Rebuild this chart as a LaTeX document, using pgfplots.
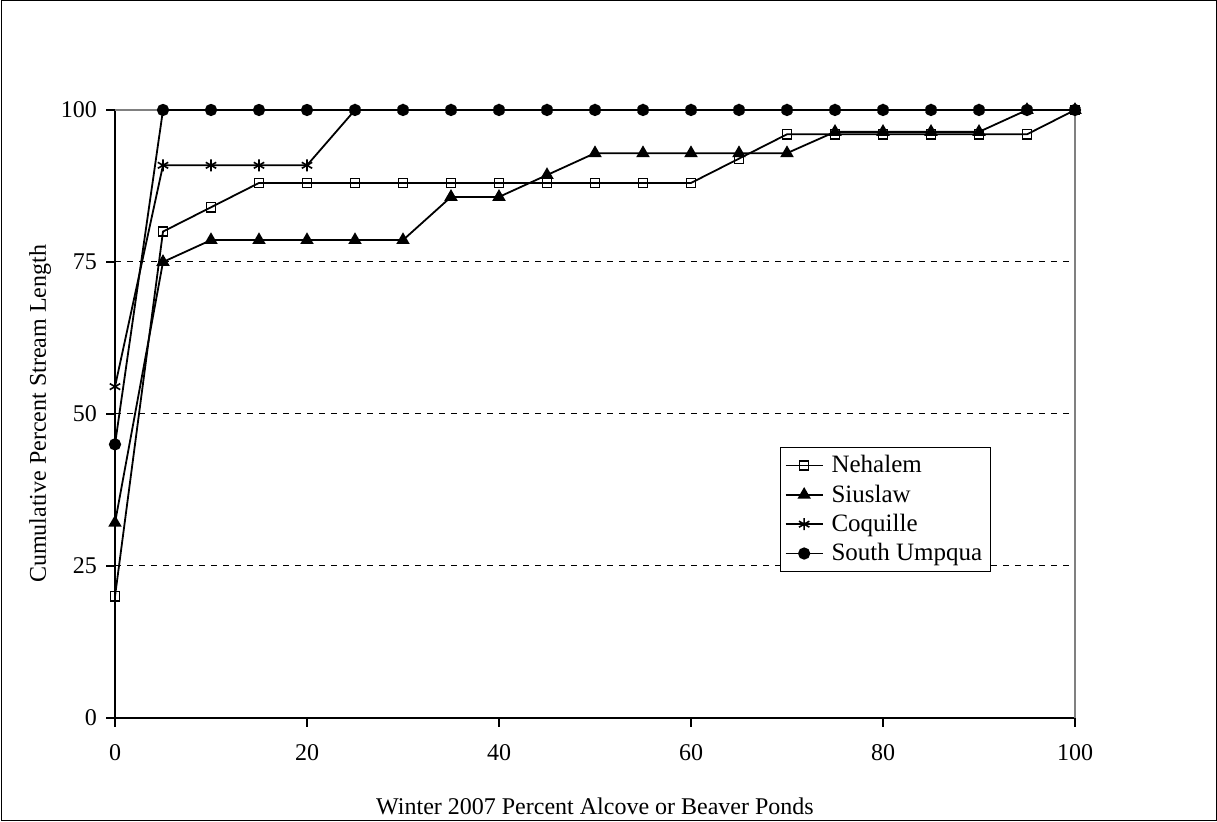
\documentclass[border=0pt]{standalone}
\usepackage{pgfplots}
\pgfplotsset{compat=1.18}
\usepackage{fontspec}
\setmainfont{Liberation Serif}
\begin{document}
\begin{tikzpicture}[font=\fontsize{12}{14.4}\selectfont]
\useasboundingbox (0,0) rectangle (608.5pt,411pt);
\draw[black, line width=0.5pt] (0.5pt,0.5pt) rectangle (608pt,410.5pt);
\begin{axis}[
  at={(57.5pt,52pt)}, anchor=south west,
  scale only axis, width=480pt, height=304pt,
  xmin=0, xmax=100, ymin=0, ymax=100,
  axis x line*=bottom, axis y line*=left,
  axis line style={black, line width=0.6pt, -},
  xtick={0,20,40,60,80,100}, ytick={0,25,50,75,100},
  tick align=outside, major tick length=4.5pt,
  tick style={black, line width=0.6pt},
  minor tick num=0,
  /pgf/number format/assume math mode=true,
  xticklabel style={yshift=-5pt},
  yticklabel style={xshift=-1pt},
  ymajorgrids, grid style={black, dash pattern=on 3pt off 3pt, line width=0.5pt},
  xlabel={Winter 2007 Percent Alcove or Beaver Ponds},
  ylabel={Cumulative Percent Stream Length},
  xlabel style={at={(axis description cs:0.5,-0.146)}, anchor=center},
  ylabel style={at={(axis description cs:-0.078,0.5)}, anchor=center},
  clip=false,
  legend style={at={(axis cs:69.3,44.6)}, anchor=north west, draw=black, line width=0.5pt,
    row sep=0.5pt, inner sep=2pt, font=\fontsize{12.5}{15}\selectfont,
    /tikz/every odd column/.append style={column sep=2pt}},
  legend cell align=left,
  legend image code/.code={\draw[mark repeat=2,mark phase=2] plot coordinates {(0cm,0cm)(0.325cm,0cm)(0.65cm,0cm)};},
  every axis plot/.append style={black, line width=0.9pt},
]
\draw[gray, line width=0.6pt] (rel axis cs:0,1) -- (rel axis cs:1,1) -- (rel axis cs:1,0);
\addplot[mark=square, mark size=2.3pt, mark options={fill=white, line width=0.7pt}] coordinates {
(0,20)(5,80)(10,84)(15,88)(20,88)(25,88)(30,88)(35,88)(40,88)(45,88)(50,88)(55,88)(60,88)(65,92)(70,96)(75,96)(80,96)(85,96)(90,96)(95,96)(100,100)};
\addlegendentry{Nehalem}
\addplot[mark=triangle*, mark size=3pt, mark options={solid}] coordinates {
(0,32.1)(5,75)(10,78.6)(15,78.6)(20,78.6)(25,78.6)(30,78.6)(35,85.7)(40,85.7)(45,89.3)(50,92.9)(55,92.9)(60,92.9)(65,92.9)(70,92.9)(75,96.4)(80,96.4)(85,96.4)(90,96.4)(95,100)(100,100)};
\addlegendentry{Siuslaw}
\addplot[mark=asterisk, mark size=3pt, mark options={line width=0.8pt}] coordinates {
(0,54.5)(5,90.9)(10,90.9)(15,90.9)(20,90.9)(25,100)(30,100)(35,100)(40,100)(45,100)(50,100)(55,100)(60,100)(65,100)(70,100)(75,100)(80,100)(85,100)(90,100)(95,100)(100,100)};
\addlegendentry{Coquille}
\addplot[mark=*, mark size=2.6pt] coordinates {
(0,45)(5,100)(10,100)(15,100)(20,100)(25,100)(30,100)(35,100)(40,100)(45,100)(50,100)(55,100)(60,100)(65,100)(70,100)(75,100)(80,100)(85,100)(90,100)(95,100)(100,100)};
\addlegendentry{South Umpqua}
\end{axis}
\end{tikzpicture}
\end{document}
